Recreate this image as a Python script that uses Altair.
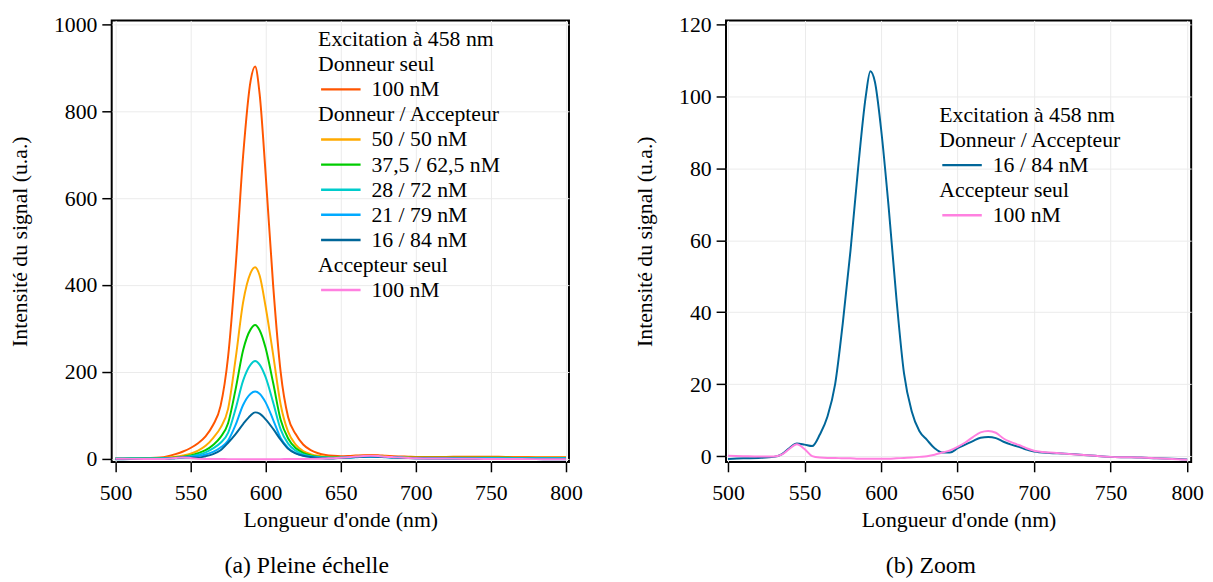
import altair as alt
import pandas as pd

# ---------------- data ----------------
WAVELENGTH = [500, 510, 520, 530, 535, 540, 545, 550, 555, 560, 565, 570, 575, 580, 585,
              590, 593, 596, 600, 605, 610, 615, 620, 625, 630, 635, 640, 645, 650, 655,
              660, 665, 670, 675, 680, 685, 690, 695, 700, 710, 720, 730, 740, 750, 760,
              770, 780, 790, 800]

DONNEUR_100 = [1, 1, 2, 3, 6, 11, 17, 25, 36, 52, 78, 122, 235, 441, 697,
               870, 903, 840, 656, 400, 200, 96, 57, 33, 20, 13, 9, 7, 6, 6.5,
               7.5, 8.5, 9, 8.5, 7, 6, 5.5, 5, 4.5, 4.5, 4.5, 5, 5, 5, 4.5,
               4.5, 4, 4, 4]
DA_50_50 = [1, 1, 1, 2, 3, 5, 8, 12, 19, 30, 48, 72, 115, 230, 360,
            428, 441, 422, 350, 240, 125, 62, 33, 18, 11, 7, 5, 4, 4, 4.5,
            5.5, 6.5, 7, 6.5, 5.5, 4.5, 4, 3.5, 3, 3, 3, 3, 3, 3, 3,
            3, 3, 3, 3]
DA_375_625 = [1, 1, 1, 1.5, 2, 3, 5, 8, 13, 20, 32, 50, 82, 160, 250,
              298, 308, 296, 255, 175, 90, 47, 25, 14, 8, 5, 3.5, 3, 3, 3.5,
              4.5, 5.5, 6, 5.5, 4.5, 3.5, 3, 2.5, 2.5, 2.5, 2.5, 2.5, 2.5, 2.5, 2.5,
              2, 2, 2, 2]
DA_28_72 = [1, 1, 1, 1, 1.5, 2, 3.5, 6, 9.5, 15, 24, 37, 60, 115, 180,
            217, 225, 217, 188, 130, 68, 35, 19, 10, 6, 4, 3, 2.5, 2.5, 3,
            4, 5, 5.5, 5, 4, 3.5, 3, 2.5, 2, 2, 2, 2, 2, 2, 1.5,
            1.5, 1.5, 1.5, 1.5]
DA_21_79 = [0.5, 0.5, 0.5, 0.5, 1, 1.5, 2.5, 4, 6.5, 10, 16, 26, 42, 78, 124,
            150, 155, 150, 130, 90, 48, 25, 13, 7.5, 4.5, 3, 2, 2, 2.5, 3,
            3.5, 4.5, 5, 4.5, 3.5, 3, 2.5, 2, 1.5, 1.5, 1, 1, 1, 1, 1,
            1, 1, 1, 1]
DA_16_84 = [-0.8, -0.6, -0.5, -0.2, 0.5, 2.2, 3.5, 3.2, 2.8, 6, 11, 20, 37, 57, 80,
            100, 107, 104, 91, 69, 44, 23, 12.5, 7, 4.5, 2.2, 1.0, 1.0, 2.2, 3.2,
            4.2, 5.1, 5.3, 5.0, 4.0, 3.2, 2.6, 1.8, 1.3, 0.9, 0.7, 0.4, 0.1, -0.2, -0.3,
            -0.4, -0.6, -0.7, -0.9]
ACCEPTEUR_100 = [0.1, 0.0, -0.1, -0.1, 0.4, 2.0, 3.3, 2.0, 0.0, -0.4, -0.5, -0.5, -0.6, -0.6, -0.7,
                 -0.7, -0.7, -0.7, -0.7, -0.7, -0.6, -0.5, -0.4, -0.2, 0.0, 0.4, 1.0, 1.6, 2.6, 3.8,
                 5.3, 6.6, 7.0, 6.5, 4.9, 3.9, 3.1, 2.2, 1.5, 1.0, 0.7, 0.4, 0.1, -0.2, -0.3,
                 -0.4, -0.6, -0.8, -1.0]

SERIES_NAMES = ["D100", "DA50", "DA375", "DA28", "DA21", "DA16", "A100"]
SERIES_VALUES = [DONNEUR_100, DA_50_50, DA_375_625, DA_28_72, DA_21_79, DA_16_84, ACCEPTEUR_100]
SERIES_COLORS = ["#ff5500", "#ffaa00", "#00cc00", "#00cccc", "#00aaff", "#006699", "#ff80e0"]

LEGEND_A = [("Excitation à 458 nm", None), ("Donneur seul", None), ("100 nM", "D100"),
            ("Donneur / Accepteur", None), ("50 / 50 nM", "DA50"), ("37,5 / 62,5 nM", "DA375"),
            ("28 / 72 nM", "DA28"), ("21 / 79 nM", "DA21"), ("16 / 84 nM", "DA16"),
            ("Accepteur seul", None), ("100 nM", "A100")]
LEGEND_B = [("Excitation à 458 nm", None), ("Donneur / Accepteur", None), ("16 / 84 nM", "DA16"),
            ("Accepteur seul", None), ("100 nM", "A100")]

X_TICKS = [500, 550, 600, 650, 700, 750, 800]
Y_TICKS_A = [0, 200, 400, 600, 800, 1000]
Y_TICKS_B = [0, 20, 40, 60, 80, 100, 120]

FONT = "'Liberation Serif', 'DejaVu Serif', serif"
FS = 22

rows = []
for name, vals in zip(SERIES_NAMES, SERIES_VALUES):
    for w, v in zip(WAVELENGTH, vals):
        rows.append({"wl": w, "val": v, "series": name})
long_df = pd.DataFrame(rows)
color_of = dict(zip(SERIES_NAMES, SERIES_COLORS))


def legend_df(entries):
    return pd.DataFrame([
        {"label": lab, "item": ser is not None, "color": color_of.get(ser, "#000000"), "row": i}
        for i, (lab, ser) in enumerate(entries)
    ])


def panel(names, xdom, ydom, yticks, entries, lx, ly, caption, cdx, w, h):
    data = long_df[long_df["series"].isin(names)]
    lines = alt.Chart(data).mark_line(strokeWidth=2, interpolate="monotone", clip=True).encode(
        x=alt.X("wl:Q", scale=alt.Scale(domain=xdom, nice=False, zero=False),
                axis=alt.Axis(values=X_TICKS, title="Longueur d'onde (nm)", format="d",
                              labelFont=FONT, titleFont=FONT)),
        y=alt.Y("val:Q", scale=alt.Scale(domain=ydom, nice=False, zero=False),
                axis=alt.Axis(values=yticks, title="Intensité du signal (u.a.)", format="d",
                              labelFont=FONT, titleFont=FONT)),
        color=alt.Color("series:N", scale=alt.Scale(domain=names, range=[color_of[n] for n in names]),
                        legend=None),
    )
    ldf = legend_df(entries)
    base = alt.Chart(ldf).transform_calculate(
        tx=f"datum.item ? {lx + 54} : {lx}",
        ty=f"{ly} + datum.row * 25.4",
        lx1=f"{lx + 3}",
        lx2=f"{lx + 43}",
    )
    ltext = base.mark_text(align="left", baseline="middle", font=FONT, fontSize=FS, color="black").encode(
        x=alt.X("tx:Q", scale=None, axis=None),
        y=alt.Y("ty:Q", scale=None, axis=None),
        text="label:N",
    )
    lrule = base.transform_filter("datum.item").mark_rule(strokeWidth=2.5).encode(
        x=alt.X("lx1:Q", scale=None, axis=None),
        x2="lx2:Q",
        y=alt.Y("ty:Q", scale=None, axis=None),
        color=alt.Color("color:N", scale=None),
    )
    return alt.layer(lines, lrule, ltext).resolve_scale(
        x="independent", y="independent", color="independent"
    ).properties(
        width=w, height=h,
        title=alt.TitleParams(caption, orient="bottom", anchor="middle", font=FONT, fontSize=24,
                              fontWeight="normal", color="black", offset=24, dx=cdx),
    )


left = panel(SERIES_NAMES, [497.5, 802], [-7, 1009], Y_TICKS_A, LEGEND_A, 209, 19,
             "(a) Pleine échelle", -34, 463, 447)
right = panel(["DA16", "A100"], [498.7, 802.6], [-1.6, 121.1], Y_TICKS_B, LEGEND_B, 216, 95.7,
              "(b) Zoom", -28, 471, 447)

chart = alt.hconcat(left, right, spacing=50).properties(
    padding={"left": 0, "top": 0, "right": 0, "bottom": 0}
).configure(
    font=FONT
).configure_view(
    stroke="black", strokeWidth=2
).configure_text(
    font=FONT
).configure_title(
    fontSize=24, font=FONT
).configure_axis(
    labelFont=FONT, labelFontSize=FS, labelColor="black",
    titleFont=FONT, titleFontSize=FS, titleFontWeight="normal", titleColor="black",
    tickColor="black", tickSize=10, tickWidth=1.5, domain=False,
    gridColor="#ebebeb", gridWidth=1,
).configure_axisX(
    labelPadding=11, titlePadding=6,
).configure_axisY(
    labelPadding=5, titlePadding=22,
)

chart.save("out.html", embed_options={"renderer": "svg", "actions": False})
